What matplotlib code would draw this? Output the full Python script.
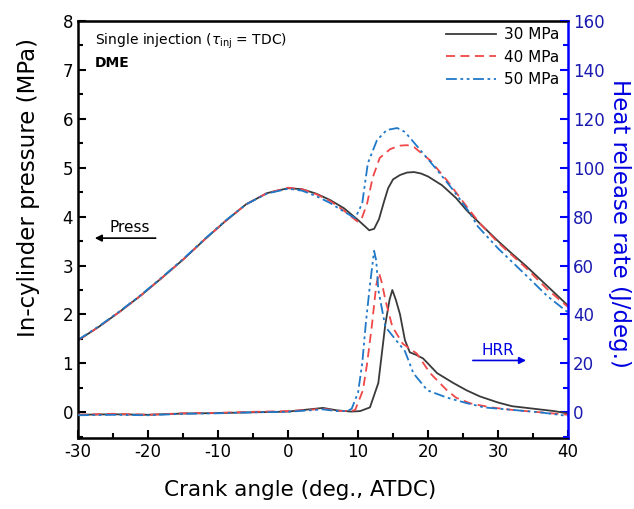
import matplotlib.pyplot as plt
from matplotlib.ticker import MultipleLocator

plt.rcParams["font.family"] = "DejaVu Sans"
plt.rcParams["axes.unicode_minus"] = False

# ---------------------------------------------------------------------------
# Data (crank angle in deg ATDC)
# ---------------------------------------------------------------------------

p30_ca = [-30, -27, -24, -21, -18, -15, -12, -9, -6, -3, 0, 2, 4, 6, 8, 10, 11, 11.6,
          12.3, 13, 13.7, 14.3, 15, 16, 17, 18, 19, 20, 22, 24, 25.5, 27.4, 30, 32,
          34, 36, 38, 40]
p30 = [1.47, 1.75, 2.06, 2.39, 2.75, 3.12, 3.52, 3.90, 4.25, 4.48, 4.58, 4.56, 4.47,
       4.34, 4.17, 3.93, 3.80, 3.72, 3.75, 3.95, 4.30, 4.58, 4.76, 4.85, 4.90, 4.91,
       4.88, 4.82, 4.64, 4.38, 4.13, 3.86, 3.50, 3.24, 2.99, 2.72, 2.45, 2.18]

p40_ca = [-30, -27, -24, -21, -18, -15, -12, -9, -6, -3, 0, 2, 4, 6, 8, 9.9, 10.5,
          11.3, 12.1, 13.1, 14.6, 16, 17, 18, 20.3, 22.7, 25.6, 27.4, 30, 34, 37, 40]
p40 = [1.47, 1.75, 2.06, 2.39, 2.75, 3.12, 3.52, 3.90, 4.25, 4.48, 4.59, 4.56, 4.46,
       4.32, 4.12, 3.90, 3.95, 4.27, 4.80, 5.20, 5.38, 5.45, 5.46, 5.42, 5.15, 4.74,
       4.19, 3.86, 3.47, 2.95, 2.52, 2.15]

p50_ca = [-30, -27, -24, -21, -18, -15, -12, -9, -6, -3, 0, 2, 4, 6, 8, 9.6, 10.6,
          11.4, 12.7, 14.1, 15.6, 16.7, 18.9, 21.3, 23.6, 26, 27.1, 30, 34, 37, 40]
p50 = [1.48, 1.76, 2.07, 2.40, 2.76, 3.13, 3.53, 3.91, 4.25, 4.47, 4.57, 4.53, 4.42,
       4.28, 4.10, 3.97, 4.27, 5.09, 5.56, 5.77, 5.81, 5.73, 5.36, 4.95, 4.54, 4.07,
       3.80, 3.35, 2.80, 2.38, 2.04]

h30_ca = [-30, -25, -20, -15, -10, -5, 0, 3, 5, 7, 9, 10.3, 11.7, 12.9, 13.9, 14.5,
          14.9, 15.4, 16, 16.7, 17.4, 18.3, 19.3, 20.3, 21.3, 23.6, 25.5, 27.4, 30,
          32, 35, 38, 40]
h30 = [-1, -0.8, -1, -0.5, -0.3, 0, 0.3, 1.2, 1.8, 0.8, 0.3, 0.5, 2, 12, 36, 46, 50,
       46, 40, 29.5, 24.5, 23.5, 22, 19, 16, 12, 9, 6.5, 4, 2.5, 1.5, 0.5, -0.5]

h40_ca = [-30, -25, -20, -15, -10, -5, 0, 3, 5, 7, 9, 9.6, 10.7, 11.3, 12, 12.6, 13,
          13.4, 13.9, 14.9, 16.4, 17.4, 18.4, 20.3, 22.7, 24, 26, 29, 32, 36, 40]
h40 = [-1, -0.6, -1, -0.4, -0.2, 0.2, 0.5, 1.0, 1.5, 0.6, 0.5, 1, 9, 20, 36, 52, 57,
       53, 46, 35, 28, 26, 24, 16, 9, 6, 3.7, 2, 1, 0, -1]

h50_ca = [-30, -25, -20, -15, -10, -5, 0, 3, 5, 7, 8.5, 9.1, 10, 10.6, 11.1, 11.7,
          12.3, 12.6, 12.9, 13.9, 15, 16.7, 17.9, 19.9, 22.7, 25.6, 28, 32, 36, 40]
h50 = [-1.2, -1, -1.2, -0.6, -0.4, 0, 0.2, 0.8, 1.2, 0.5, 0.5, 1.5, 8, 20, 36, 52,
       66, 62, 50, 35, 31, 25, 16, 9, 6, 3.7, 2, 1, 0, -1.5]

labels = ["30 MPa", "40 MPa", "50 MPa"]
colors = ["#3a3a3a", "#f04848", "#1f78c8"]
dashes = [(), (5, 3), (6, 2, 1.5, 2, 1.5, 2)]

# ---------------------------------------------------------------------------
# Figure
# ---------------------------------------------------------------------------

fig = plt.figure(figsize=(6.34, 5.09), dpi=100)
ax = fig.add_axes([0.123, 0.139, 0.773, 0.820])
ax2 = ax.twinx()

for (xs, ys), c, d, lab in zip([(p30_ca, p30), (p40_ca, p40), (p50_ca, p50)],
                               colors, dashes, labels):
    ax.plot(xs, ys, color=c, lw=1.3, dashes=d, label=lab)

for (xs, ys), c, d in zip([(h30_ca, h30), (h40_ca, h40), (h50_ca, h50)], colors, dashes):
    ax2.plot(xs, ys, color=c, lw=1.3, dashes=d)

ax.set_xlim(-30, 40)
ax.set_ylim(-0.53, 8)
ax2.set_ylim(-10.6, 160)

ax.xaxis.set_major_locator(MultipleLocator(10))
ax.xaxis.set_minor_locator(MultipleLocator(5))
ax.yaxis.set_major_locator(MultipleLocator(1))
ax.yaxis.set_minor_locator(MultipleLocator(0.5))
ax2.yaxis.set_major_locator(MultipleLocator(20))
ax2.yaxis.set_minor_locator(MultipleLocator(10))

ax.tick_params(which="both", direction="in", top=False, right=False, width=1.5,
               labelsize=12)
ax.tick_params(which="major", length=6)
ax.tick_params(which="minor", length=3.5)
ax2.tick_params(which="both", direction="in", width=1.5, colors="blue",
                labelcolor="#1a1ab0", labelsize=12)
ax2.tick_params(which="major", length=6)
ax2.tick_params(which="minor", length=3.5)

for side in ["left", "bottom", "top"]:
    ax.spines[side].set_linewidth(1.8)
ax2.spines["right"].set_color("blue")
ax2.spines["right"].set_linewidth(1.8)
ax2.spines["left"].set_visible(False)
ax.spines["right"].set_visible(False)

ax.set_xlabel("Crank angle (deg., ATDC)", fontsize=15.5)
ax.xaxis.set_label_coords(0.453, -0.10)
ax.set_ylabel("In-cylinder pressure (MPa)", fontsize=16.5)
ax.yaxis.set_label_coords(-0.077, 0.60)
ax2.set_ylabel("Heat release rate (J/deg.)", fontsize=16.5, color="#0000e0",
               rotation=270, va="center")
ax2.yaxis.set_label_coords(1.105, 0.515)

ax.text(0.035, 0.975, r"Single injection ($\tau_{\mathrm{inj}}$ = TDC)",
        transform=ax.transAxes, fontsize=10, va="top", ha="left")
ax.text(0.035, 0.915, "DME", transform=ax.transAxes, fontsize=10,
        fontweight="bold", va="top", ha="left")

# Press / HRR indicator arrows
ax.annotate("", xy=(-27.6, 3.56), xytext=(-18.9, 3.56),
            arrowprops=dict(arrowstyle="-|>", color="black", lw=1.2,
                            mutation_scale=10, shrinkA=0, shrinkB=0))
ax.text(-22.6, 3.62, "Press", fontsize=11, ha="center", va="bottom")
ax.annotate("", xy=(34.0, 1.06), xytext=(26.4, 1.06),
            arrowprops=dict(arrowstyle="-|>", color="#0000e0", lw=1.2,
                            mutation_scale=10, shrinkA=0, shrinkB=0))
ax.text(30.0, 1.12, "HRR", fontsize=11, color="#0000e0", ha="center", va="bottom")

ax.legend(loc="upper right", frameon=False, fontsize=11, handlelength=3.3,
          handletextpad=0.5, labelspacing=0.5, borderaxespad=0.0,
          bbox_to_anchor=(0.995, 1.0))

fig.savefig("out.png", dpi=100)
